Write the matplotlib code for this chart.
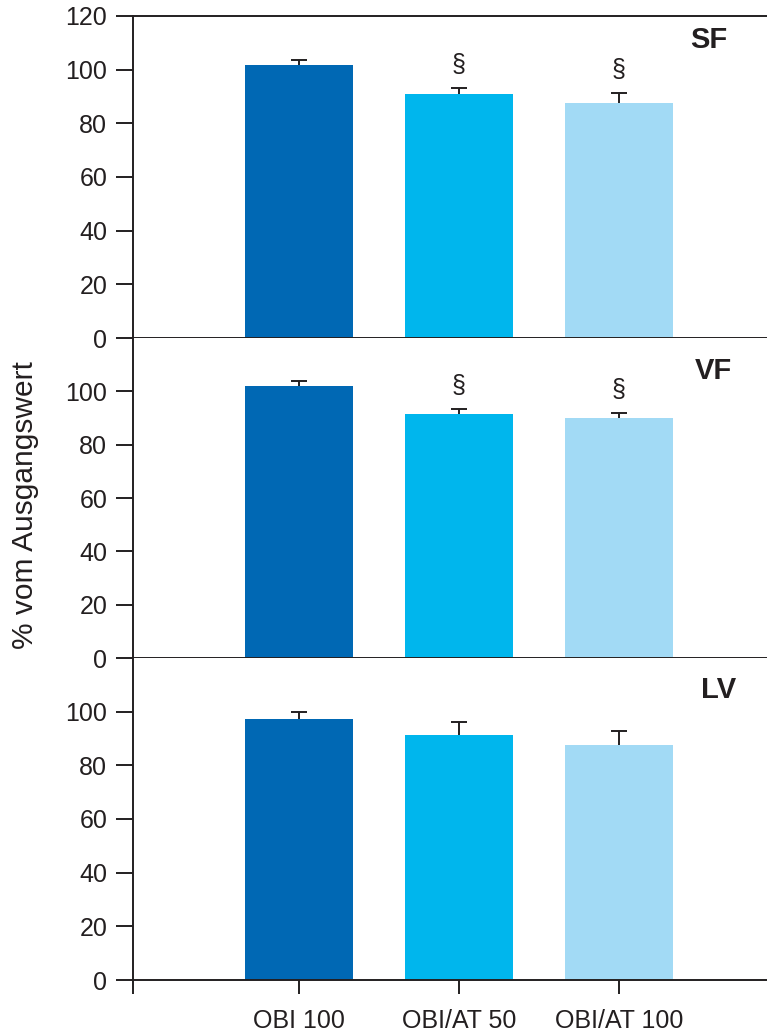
import matplotlib
matplotlib.use("Agg")
import matplotlib.pyplot as plt

plt.rcParams['font.family'] = ['Liberation Sans', 'DejaVu Sans']

groups = ['OBI 100', 'OBI/AT 50', 'OBI/AT 100']
panels = ['SF', 'VF', 'LV']
means = {
    'SF': [101.6, 90.8, 87.5],
    'VF': [101.9, 91.4, 89.9],
    'LV': [97.2, 91.3, 87.7],
}
errs = {
    'SF': [1.9, 2.3, 3.8],
    'VF': [2.1, 2.0, 2.0],
    'LV': [2.6, 4.7, 5.0],
}
signif = {
    'SF': [False, True, True],
    'VF': [False, True, True],
    'LV': [False, False, False],
}

colors = ['#0068b4', '#00b6ed', '#a2daf5']
dark = '#231f20'
W, H = 767, 1034

fig = plt.figure(figsize=(W / 100, H / 100), dpi=100)

# panel extents in pixels (top, bottom) and label placement
boxes = [(16, 338), (338, 658), (658, 980)]
label_pos = {'SF': (3.56, 0.925), 'VF': (3.59, 0.897), 'LV': (3.625, 0.90)}
left_px = 133
xmin, xmax = -0.0375, 3.925
x = [1, 2, 3]
cap = 0.05

for i, name in enumerate(panels):
    top, bot = boxes[i]
    ax = fig.add_axes([left_px / W, (H - bot) / H, 1 - left_px / W, (bot - top) / H])
    ax.bar(x, means[name], width=0.67, color=colors, zorder=2)
    tops = [m + e for m, e in zip(means[name], errs[name])]
    # upper half error bars only
    ax.vlines(x, means[name], tops, color=dark, lw=1.4, zorder=3)
    ax.hlines(tops, [xi - cap for xi in x], [xi + cap for xi in x],
              color=dark, lw=1.4, zorder=3)
    for xi, t, s in zip(x, tops, signif[name]):
        if s:
            ax.text(xi, t + 4.2, '§', ha='center', va='bottom',
                    fontsize=18, color=dark)
    lx, ly = label_pos[name]
    ax.text(lx, ly, name, transform=ax.get_xaxis_transform(), ha='center',
            va='center', fontsize=21, fontweight='bold', color=dark)

    ax.set_xlim(xmin, xmax)
    ax.set_ylim(0, 120)
    if i == 0:
        ax.set_yticks([0, 20, 40, 60, 80, 100, 120])
    else:
        ax.set_yticks([0, 20, 40, 60, 80, 100])
    ax.spines['right'].set_visible(False)
    if i > 0:
        ax.spines['top'].set_visible(False)
    for sp in ax.spines.values():
        sp.set_linewidth(1.4)
        sp.set_color(dark)
    ax.tick_params(axis='y', direction='out', length=12.5, width=1.4,
                   color=dark, labelsize=18, labelcolor=dark, pad=6)
    if i < 2:
        ax.set_xticks([])
    else:
        ax.set_xticks([xmin + 0.001] + x)
        ax.set_xticklabels([''] + groups)
        ax.tick_params(axis='x', direction='out', length=10, width=1.4,
                       color=dark, labelsize=18, labelcolor=dark, pad=11)

fig.text(25 / W, 1 - 505 / H, '% vom Ausgangswert', rotation=90,
         ha='center', va='center', fontsize=21.5, color=dark)

fig.savefig('out.png', dpi=100)
